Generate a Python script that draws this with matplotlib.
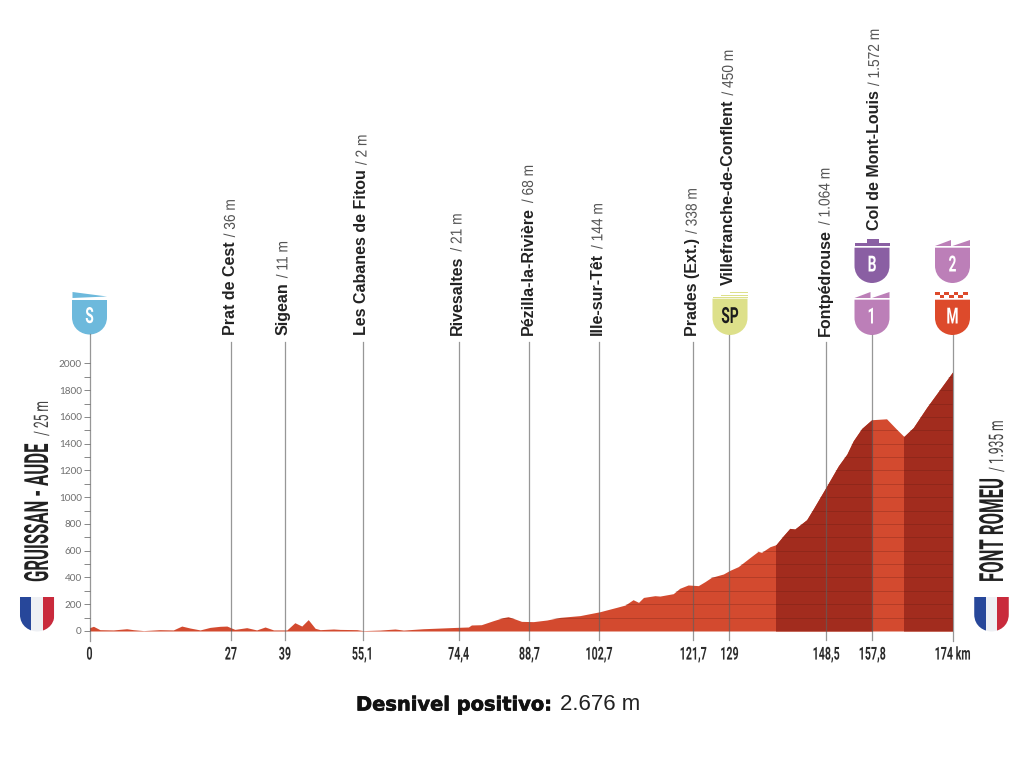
import numpy as np
import matplotlib
matplotlib.use("Agg")
import matplotlib.pyplot as plt
from matplotlib.patches import PathPatch, Polygon, Rectangle
from matplotlib.path import Path
from matplotlib.patheffects import AbstractPathEffect, withStroke
from matplotlib.transforms import Affine2D

km = [0, .8, 2.1, 4.8, 7.5, 8.8, 10.9, 14.2, 16.9, 18.6, 20.3, 22.3, 24.3, 26.3, 27.7, 29.3, 31.7, 33.7, 35.4, 37.1,
      39.8, 41.4, 42.8, 44.1, 45.5, 46.5, 49.2, 50.5, 53.9, 55.2, 58.6, 61.6, 63.3, 67.3, 70.7, 74, 76.4, 77, 79,
      81.4, 83.4, 84.4, 85.4, 87.1, 89.5, 92.2, 94.9, 98.9, 102.9, 106.3, 108, 109.6, 110.7, 111.7, 114, 115, 117.7,
      119, 120.7, 122.75, 124.1, 125.4, 127.8, 129.1, 130.8, 133.2, 134.8, 135.5, 137.2, 138.4, 139.9, 141.2, 142.2,
      144.6, 145.9, 148.6, 151, 152.7, 154, 155.7, 157.7, 160.7, 162.7, 164.2, 166.1, 168.8, 174]
elev = [25, 35, 10, 8, 17, 10, 3, 10, 8, 37, 22, 8, 27, 35, 37, 12, 25, 8, 30, 8,
        8, 62, 37, 85, 20, 10, 15, 12, 10, 3, 7, 15, 7, 17, 22, 27, 30, 45, 47,
        77, 100, 107, 95, 72, 70, 82, 102, 115, 144, 177, 194, 234, 214, 251, 264, 261, 279,
        319, 344, 339, 369, 401, 426, 453, 481, 550, 595, 588, 630, 645, 712, 767, 762,
        832, 911, 1081, 1235, 1322, 1422, 1514, 1579, 1586, 1509, 1454, 1521, 1671, 1935]
tick_pos = [0, 28.5, 39.4, 55.1, 74.4, 88.7, 102.7, 121.7, 129, 148.5, 157.8, 174]
tick_labels = ['0', '27', '39', '55,1', '74,4', '88,7', '102,7', '121,7', '129', '148,5', '157,8', '174 km']
places = ['Prat de Cest', 'Sigean', 'Les Cabanes de Fitou', 'Rivesaltes', 'Pézilla-la-Rivière', 'Ille-sur-Têt',
          'Prades (Ext.)', 'Villefranche-de-Conflent', 'Fontpédrouse', 'Col de Mont-Louis']
heights = ['36 m', '11 m', '2 m', '21 m', '68 m', '144 m', '338 m', '450 m', '1.064 m', '1.572 m']
place_pos = tick_pos[1:11]
dark_ranges = [(138.4, 157.8), (164.2, 174)]

LIGHT, DARK = '#D34A2F', '#A22C1E'
NARROW = ['Roboto', 'DejaVu Sans']
SANS = ['Liberation Sans', 'DejaVu Sans']


class Scale(AbstractPathEffect):
    """Condense or heighten a text in its own frame (the installed faces have no condensed cut)."""

    def __init__(self, sx=1, sy=1, center=False):
        super().__init__()
        self.sx, self.sy, self.center = sx, sy, center

    def draw_path(self, renderer, gc, tpath, affine, rgbFace=None):
        e = tpath.get_extents()
        c = (e.x0 + e.x1) / 2 if self.center else 0
        t = Affine2D().translate(-c, 0).scale(self.sx, self.sy).translate(c, 0)
        renderer.draw_path(gc, tpath, t + affine, rgbFace)


fig = plt.figure(figsize=(10.24, 7.68), dpi=100, facecolor='white')
W, H = 1024, 768
ax = fig.add_axes([89.5 / W, (H - 631) / H, 863 / W, 268 / H])
ax.set_xlim(0, 174)
ax.set_ylim(0, 2003)
for s in ax.spines.values():
    s.set_visible(False)
ax.patch.set_alpha(0)

ax.fill_between(km, 0, elev, color=LIGHT, lw=0, zorder=2)
clip = Path(np.column_stack([[0] + km + [174], [0] + elev + [0]]))
for a, b in dark_ranges:
    d = ax.fill_between(km, 0, elev, color=DARK, lw=0, zorder=2.1)
    d.set_clip_path(Rectangle((a, 0), b - a, 2100, transform=ax.transData))
hl = ax.hlines(np.arange(100, 2000, 100), 0, 174, color='#5a1a10', lw=.6, alpha=.3, zorder=3)
hl.set_clip_path(clip, ax.transData)

ax.set_yticks(np.arange(0, 2001, 200))
ax.set_yticks(np.arange(100, 2000, 200), minor=True)
ax.tick_params(axis='y', which='both', length=4.3, width=.7, color='#888888', labelsize=7.2,
               labelcolor='#6e6e6e', pad=1.2)
for t in ax.get_yticklabels():
    t.set_family('Lato')
ax.set_xticks(tick_pos)
ax.set_xticklabels(tick_labels, family=NARROW, weight='bold', fontsize=12.8, color='#2b2b2b')
ax.tick_params(axis='x', length=0, pad=10.5)
for t in ax.get_xticklabels():
    t.set_path_effects([Scale(sx=.6, center=True)])

ov = fig.add_axes([0, 0, 1, 1], zorder=5)
ov.set_xlim(0, W)
ov.set_ylim(H, 0)
ov.axis('off')
ov.patch.set_alpha(0)


def px(k):
    return 89.5 + k * 863 / 174


def shield(cx, top, bottom, w, color, z=3):
    l, r = cx - w / 2, cx + w / 2
    mid = bottom - w * .5
    verts = [(l, top), (r, top), (r, mid), (r, mid + w * .36), (cx + w * .2, bottom), (cx, bottom),
             (cx - w * .2, bottom), (l, mid + w * .36), (l, mid), (l, top)]
    codes = [Path.MOVETO, Path.LINETO, Path.LINETO, Path.CURVE4, Path.CURVE4, Path.CURVE4,
             Path.CURVE4, Path.CURVE4, Path.CURVE4, Path.CLOSEPOLY]
    p = PathPatch(Path(verts, codes), fc=color, ec='none', zorder=z)
    ov.add_patch(p)
    return p


def badge_letter(cx, y, s, color='white', size=16):
    t = ov.text(cx, y, s, color=color, family=NARROW, weight='bold', fontsize=size, ha='center', va='center', zorder=6)
    t.set_path_effects([Scale(sx=.62, center=True)])


def two_flags(cx, top, color):
    l = cx - 17.5
    ov.add_patch(Polygon([(l, top + 6), (l + 16, top), (l + 16, top + 6)], fc=color, ec='none'))
    ov.add_patch(Polygon([(l + 17.5, top + 6), (l + 35, top), (l + 35, top + 6)], fc=color, ec='none'))


def vtext(x, y, s, sy=1, **kw):
    """Upward text whose baseline lies on x and which starts at y."""
    t = ov.text(x, y, s, rotation=90, rotation_mode='anchor', ha='left', va='baseline', zorder=6, **kw)
    if sy != 1:
        t.set_path_effects([Scale(sy=sy)])
    return t


# vertical guide lines
line_tops = [342, 342, 342, 342, 342, 342, 342, 335, 342, 335]
for k, t in zip(place_pos, line_tops):
    ov.plot([px(k)] * 2, [t, 640], color='#5f5f5f', lw=.9, alpha=.65, zorder=4)
ov.plot([px(0)] * 2, [334, 641], color='#5f5f5f', lw=.9, alpha=.65, zorder=4)
ov.plot([px(174)] * 2, [335, 641], color='#5f5f5f', lw=.9, alpha=.65, zorder=4)

# name (bold) and height (light) of each passage, on one baseline
bottoms = [335, 335, 335, 335, 335, 335, 336, 285, 336, 230]
baseline_dx = [4, 2.5, 3.7, 3, 3.5, 3.5, 3.5, 3.6, 3.5, 6.8]
renderer = fig.canvas.get_renderer()
for k, b, dx, n, h in zip(place_pos, bottoms, baseline_dx, places, heights):
    x = px(k) + dx
    t = vtext(x, b, n, family=SANS, weight='bold', fontsize=11.5, color='#222222')
    top = H - t.get_window_extent(renderer).y1
    vtext(x, top - 4, '/ ' + h, sy=1.15, family=SANS, fontsize=9.9, color='#555555')

# start badge
ov.add_patch(Polygon([(72.5, 292), (107, 296.5), (72.5, 298)], fc='#6DB9DC', ec='none'))
shield(89.5, 300, 334.5, 35, '#6DB9DC')
badge_letter(89.5, 317, 'S')
# sprint
for y, x0 in ((292, 730), (294.7, 721), (297, 712.5)):
    ov.add_patch(Rectangle((x0, y), 747.5 - x0, 1.1, fc='#DDE08A', ec='none'))
shield(730, 298.7, 335, 35, '#DDE08A')
badge_letter(730, 317, 'SP', color='#1c1c1c')
# climbs
two_flags(872, 292, '#BC7FB8')
shield(872, 299.7, 335, 35, '#BC7FB8')
badge_letter(872, 317.5, '1')
two_flags(952.5, 240, '#BC7FB8')
shield(952.5, 247.7, 283, 35, '#BC7FB8')
badge_letter(952.5, 265.5, '2')
ov.add_patch(Rectangle((854.5, 242.7), 35, 3.5, fc='#8A5FA3', ec='none'))
ov.add_patch(Rectangle((866.7, 239.3), 12.3, 4, fc='#8A5FA3', ec='none'))
shield(872, 247.7, 283, 35, '#8A5FA3')
badge_letter(872, 265.5, 'B')
shield(952.5, 299.7, 335, 35, '#DD4A2B')
for i in range(4):
    ov.add_patch(Rectangle((935 + i * 9.3, 292), 4.8, 3, fc='#DD4A2B', ec='none'))
for i in range(3):
    ov.add_patch(Rectangle((939.6 + i * 9.3, 295.2), 4.8, 3.2, fc='#DD4A2B', ec='none'))

badge_letter(952.5, 317.5, 'M')

# flags
for cx in (37.2, 991.5):
    s = shield(cx, 597, 631.5, 34.5, '#EEF0F4')
    for dx, c in ((-17.25, '#27479A'), (5.75, '#C92A3C')):
        r = ov.add_patch(Rectangle((cx + dx, 597), 11.5, 36, fc=c, ec='none', zorder=4))
        r.set_clip_path(s.get_path(), s.get_transform())

# start / finish names
vtext(48, 582, 'GRUISSAN - AUDE', sy=2, family=NARROW, weight='bold', fontsize=12, color='#222222')
vtext(48, 436, '/ 25 m', sy=1.67, family=NARROW, fontsize=8.64, color='#444444')
vtext(1003, 582, 'FONT ROMEU', sy=2, family=NARROW, weight='bold', fontsize=12, color='#222222')
vtext(1003, 472, '/ 1.935 m', sy=1.67, family=NARROW, fontsize=8.64, color='#444444')

# climb total
t = ov.text(356, 705, 'Desnivel positivo:', family='DejaVu Sans', weight='bold', fontsize=14, color='#111111',
            ha='left', va='center', zorder=6)
t.set_path_effects([withStroke(linewidth=.5, foreground='#111111')])
ov.text(560, 705, '2.676 m', family='Liberation Sans', fontsize=16, color='#222222', ha='left', va='center', zorder=6)

fig.savefig('out.png', dpi=100)
